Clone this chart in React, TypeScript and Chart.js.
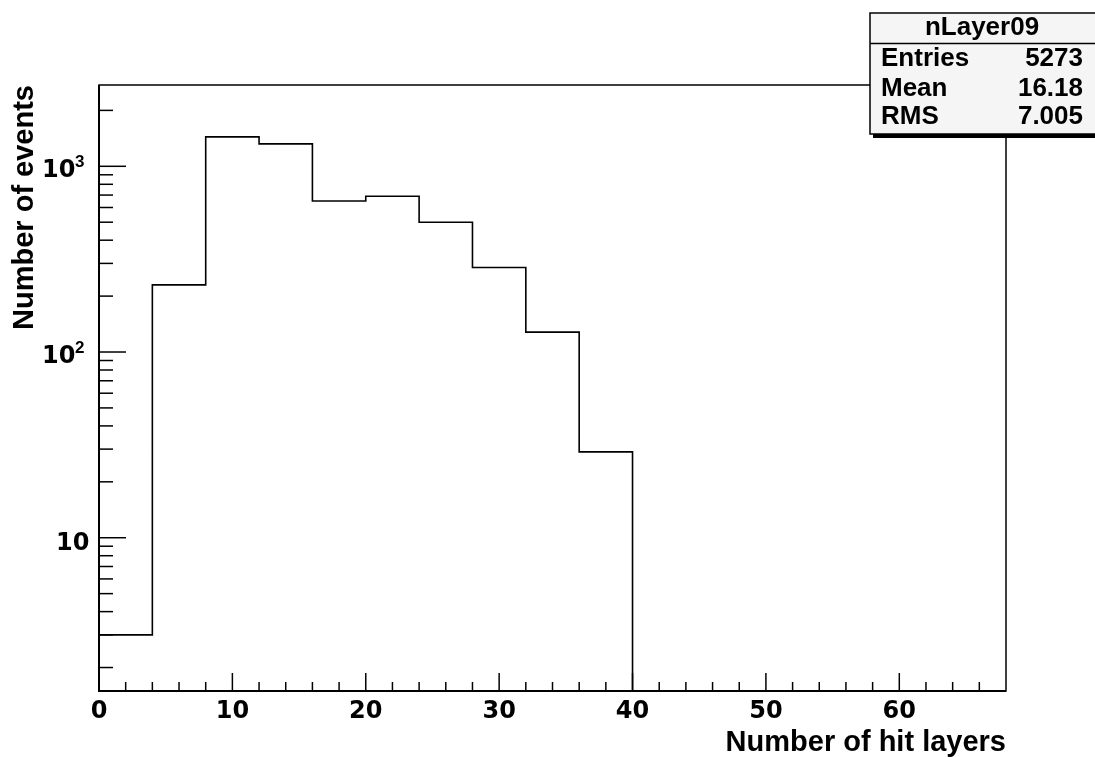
import React, { useEffect, useRef } from "react";
import { Chart, registerables } from "chart.js";

Chart.register(...registerables);

// ---- data ----
const binEdges = [0, 4, 8, 12, 16, 20, 24, 28, 32, 36, 40, 44, 48, 52, 56, 60, 64, 68];
const binCounts = [3, 230, 1440, 1320, 650, 690, 500, 285, 128, 29, 0, 0, 0, 0, 0, 0, 0];

const xMajorTicks = [0, 10, 20, 30, 40, 50, 60];
const xTickLabels = ["0", "10", "20", "30", "40", "50", "60"];
const yMajorTicks = [10, 100, 1000];
const yTickBase = ["10", "10", "10"];
const yTickExp = ["", "2", "3"];

const xTitle = "Number of hit layers";
const yTitle = "Number of events";

const statsTitle = "nLayer09";
const statsLabels = ["Entries", "Mean", "RMS"];
const statsValues = ["5273", "16.18", "7.005"];

const X_MIN = 0;
const X_MAX = 68;
const Y_MIN = 1.495;
const Y_MAX = 2740;
const FLOOR = 1e-3;

const FONT = "'Liberation Sans', Arial, Helvetica, sans-serif";
const TICK_FONT = "'DejaVu Sans', 'Liberation Sans', sans-serif";

const rootPlugin = {
  id: "rootStyle",
  afterDraw(chart: any) {
    const { ctx, chartArea } = chart;
    const { left, top, right, bottom } = chartArea;
    const xs = chart.scales.x;
    const ys = chart.scales.y;
    ctx.save();
    ctx.strokeStyle = "#000";
    ctx.lineWidth = 1.5;
    // inward ticks on x
    xs.ticks.forEach((t: any) => {
      const px = xs.getPixelForValue(t.value);
      if (px <= left + 1 || px >= right - 1) return;
      const len = xMajorTicks.includes(t.value) ? 18 : 9;
      ctx.beginPath();
      ctx.moveTo(px, bottom);
      ctx.lineTo(px, bottom - len);
      ctx.stroke();
    });
    // inward ticks on y
    ys.ticks.forEach((t: any) => {
      const py = ys.getPixelForValue(t.value);
      if (py <= top + 1 || py >= bottom - 1) return;
      const len = yMajorTicks.includes(t.value) ? 27 : 14;
      ctx.beginPath();
      ctx.moveTo(left, py);
      ctx.lineTo(left + len, py);
      ctx.stroke();
    });
    // y tick labels with superscript exponents
    ctx.fillStyle = "#000";
    ctx.textBaseline = "alphabetic";
    yMajorTicks.forEach((v, i) => {
      const py = ys.getPixelForValue(v);
      if (yTickExp[i] === "") {
        ctx.font = `bold 24px ${TICK_FONT}`;
        ctx.textAlign = "right";
        ctx.fillText(yTickBase[i], left - 9.5, py + 12.3);
      } else {
        ctx.font = `bold 24px ${TICK_FONT}`;
        ctx.textAlign = "right";
        ctx.fillText(yTickBase[i], left - 23.5, py + 10.5);
        ctx.font = `bold 17px ${FONT}`;
        ctx.textAlign = "left";
        ctx.fillText(yTickExp[i], left - 24, py + 0.5);
      }
    });
    // frame
    ctx.lineWidth = 1.5;
    ctx.strokeRect(left, top, right - left, bottom - top);
    ctx.lineWidth = 2;
    ctx.beginPath();
    ctx.moveTo(left, top);
    ctx.lineTo(left, bottom);
    ctx.lineTo(right, bottom);
    ctx.stroke();

    // stats box
    const bx = 870, by = 13, bw = 230, bh = 121;
    ctx.fillStyle = "#000";
    ctx.fillRect(bx + 3, by + bh, bw, 4);
    ctx.fillStyle = "#f5f5f5";
    ctx.fillRect(bx, by, bw, bh);
    ctx.lineWidth = 1.5;
    ctx.strokeStyle = "#000";
    ctx.strokeRect(bx, by, bw, bh);
    ctx.beginPath();
    ctx.moveTo(bx, 43.5);
    ctx.lineTo(bx + bw, 43.5);
    ctx.stroke();
    ctx.fillStyle = "#000";
    ctx.font = `bold 26px ${FONT}`;
    ctx.textBaseline = "alphabetic";
    ctx.textAlign = "center";
    ctx.fillText(statsTitle, 982, 35);
    const rowBase = [66, 96, 124];
    statsLabels.forEach((lab, i) => {
      ctx.textAlign = "left";
      ctx.fillText(lab, 881, rowBase[i]);
      ctx.textAlign = "right";
      ctx.fillText(statsValues[i], 1083, rowBase[i]);
    });
    ctx.restore();
  },
};

export default function App() {
  const canvasRef = useRef<HTMLCanvasElement | null>(null);

  useEffect(() => {
    if (!canvasRef.current) return;
    const points = binEdges.map((e, i) => {
      const c = i < binCounts.length ? binCounts[i] : binCounts[binCounts.length - 1];
      return { x: e, y: c > 0 ? c : FLOOR };
    });
    const yTickValues: number[] = [];
    for (let e = 0; e <= 3; e++) {
      for (let m = 1; m <= 9; m++) {
        const v = m * Math.pow(10, e);
        if (v >= Y_MIN && v <= Y_MAX) yTickValues.push(v);
      }
    }

    const chart = new Chart(canvasRef.current, {
      type: "line",
      data: {
        datasets: [
          {
            data: points,
            stepped: true,
            borderColor: "#000",
            borderWidth: 1.6,
            pointRadius: 0,
            fill: false,
          },
        ],
      },
      options: {
        animation: false,
        responsive: true,
        maintainAspectRatio: false,
        events: [],
        layout: { padding: { top: 85, right: 89, left: 0, bottom: 0 } },
        plugins: { legend: { display: false }, tooltip: { enabled: false } },
        scales: {
          x: {
            type: "linear",
            min: X_MIN,
            max: X_MAX,
            grid: { display: false, drawTicks: false },
            border: { display: false },
            ticks: {
              stepSize: 2,
              autoSkip: false,
              maxRotation: 0,
              padding: 6,
              color: "#000",
              font: { family: TICK_FONT, size: 24, weight: "bold" },
              callback: (v: any) => {
                const i = xMajorTicks.indexOf(Number(v));
                return i >= 0 ? xTickLabels[i] : "";
              },
            },
            title: {
              display: true,
              text: xTitle,
              align: "end",
              color: "#000",
              padding: { top: 0, bottom: 0 },
              font: { family: FONT, size: 29, weight: "bold", lineHeight: 1 },
            },
            afterFit: (s: any) => {
              s.height = 66;
            },
          },
          y: {
            type: "logarithmic",
            min: Y_MIN,
            max: Y_MAX,
            grid: { display: false, drawTicks: false },
            border: { display: false },
            afterBuildTicks: (s: any) => {
              s.ticks = yTickValues.map((v) => ({ value: v }));
            },
            ticks: {
              display: false,
              autoSkip: false,
            },
            title: {
              display: true,
              text: yTitle,
              align: "end",
              color: "#000",
              padding: { top: 10, bottom: 0 },
              font: { family: FONT, size: 29, weight: "bold", lineHeight: 1 },
            },
            afterFit: (s: any) => {
              s.width = 99;
            },
          },
        },
      },
      plugins: [rootPlugin],
    } as any);
    return () => chart.destroy();
  }, []);

  return (
    <div style={{ position: "fixed", left: 0, top: 0, width: 1095, height: 757, background: "#fff" }}>
      <canvas ref={canvasRef} />
    </div>
  );
}
